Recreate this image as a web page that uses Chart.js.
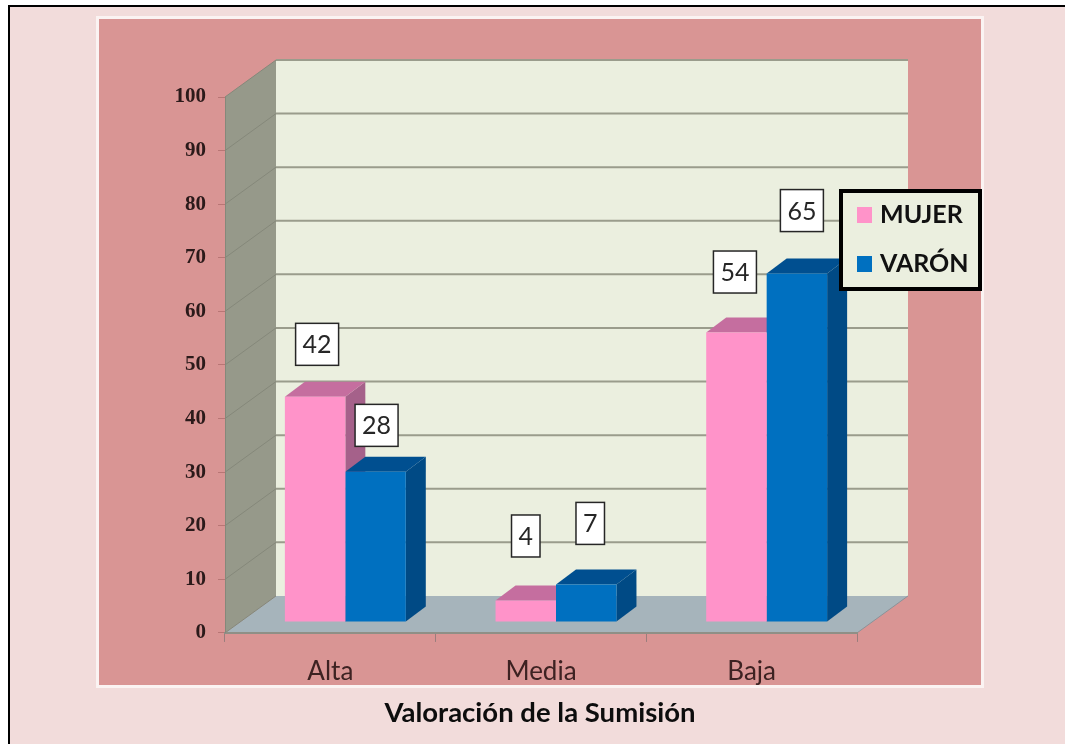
<!DOCTYPE html>
<html>
<head>
<meta charset="utf-8">
<title>Valoración de la Sumisión</title>
<script src="https://cdn.jsdelivr.net/npm/chart.js@4/dist/chart.umd.min.js"></script>
<style>
    html, body { margin: 0; padding: 0; background: #fff; overflow: hidden; }
    canvas { display: block; }
</style>
</head>
<body>
<canvas id="myChart" width="1065" height="744"></canvas>
<script>
// data
const categories = ['Alta', 'Media', 'Baja'];
const mujer = [42, 4, 54];
const varon = [28, 7, 65];
const seriesNames = ['MUJER', 'VARÓN'];
const chartTitle = 'Valoración de la Sumisión';

// colours
const pinkFaces = { front: '#ff93c9', top: '#c56e9f', side: '#a5618a' };
const blueFaces = { front: '#0070c0', top: '#004f90', side: '#004a85' };
const faces = [pinkFaces, blueFaces];

// 3d look
const wall = { dx: 51, dy: 37 };     // depth of the room
const barShift = { x: 15, y: -11 };  // bars stand a bit inside the room
const barDepth = { dx: 20, dy: 15 };

// the value boxes were moved by hand in the original, [series][category]
const labelOffsets = [
    [[2, -52.5], [0, -64.5], [-1.5, -60.5]],
    [[1, -46.5], [4, -61], [5, -63]],
];

const poly = (ctx, pts, fill) => {
    ctx.beginPath();
    pts.forEach((p, i) => (i ? ctx.lineTo(p[0], p[1]) : ctx.moveTo(p[0], p[1])));
    ctx.closePath();
    ctx.fillStyle = fill;
    ctx.fill();
};

const roomPlugin = {
    id: 'room',
    beforeDraw(chart) {
        const { ctx, chartArea: a, scales } = chart;
        const { dx, dy } = wall;
        ctx.save();
        // page and panel
        ctx.fillStyle = '#000';
        ctx.fillRect(8, 5, 1057, 739);
        ctx.fillStyle = '#f2dcdb';
        ctx.fillRect(10, 7, 1055, 737);
        ctx.fillStyle = '#fbf3f2';
        ctx.fillRect(96, 16, 888, 672);
        ctx.fillStyle = '#d99594';
        ctx.fillRect(99, 19, 882, 666);

        // back wall, side wall, floor
        poly(ctx, [[a.left + dx, a.top - dy], [a.right + dx, a.top - dy], [a.right + dx, a.bottom - dy], [a.left + dx, a.bottom - dy]], '#ebefdf');
        poly(ctx, [[a.left, a.top], [a.left + dx, a.top - dy], [a.left + dx, a.bottom - dy], [a.left, a.bottom]], '#96998a');
        poly(ctx, [[a.left, a.bottom], [a.left + dx, a.bottom - dy], [a.right + dx, a.bottom - dy], [a.right, a.bottom]], '#a6b4bb');

        // grid lines go round the room
        ctx.strokeStyle = '#9a9c8c';
        ctx.lineWidth = 2;
        scales.y.ticks.forEach((t) => {
            const y = scales.y.getPixelForValue(t.value);
            if (t.value === 0) return;
            ctx.beginPath();
            ctx.moveTo(a.left + dx, y - dy);
            ctx.lineTo(a.right + dx, y - dy);
            ctx.stroke();
        });
        ctx.strokeStyle = '#85887a';
        ctx.lineWidth = 1;
        scales.y.ticks.forEach((t) => {
            const y = scales.y.getPixelForValue(t.value);
            ctx.beginPath();
            ctx.moveTo(a.left, y);
            ctx.lineTo(a.left + dx, y - dy);
            ctx.stroke();
        });
        ctx.beginPath();
        ctx.moveTo(a.right, a.bottom);
        ctx.lineTo(a.right + dx, a.bottom - dy);
        ctx.strokeStyle = '#8c9298';
        ctx.stroke();
        ctx.restore();
    },
    // side and top faces go first, chart.js draws the fronts over them
    beforeDatasetsDraw(chart) {
        const { ctx } = chart;
        const { dx, dy } = barDepth;
        ctx.save();
        ctx.translate(barShift.x, barShift.y);
        chart.data.datasets.forEach((ds, i) => {
            const f = faces[i];
            chart.getDatasetMeta(i).data.forEach((bar) => {
                const left = bar.x - bar.width / 2;
                const right = bar.x + bar.width / 2;
                poly(ctx, [[right, bar.y], [right + dx, bar.y - dy], [right + dx, bar.base - dy], [right, bar.base]], f.side);
                poly(ctx, [[left, bar.y], [left + dx, bar.y - dy], [right + dx, bar.y - dy], [right, bar.y]], f.top);
            });
        });
        ctx.restore();
    },
    beforeDatasetDraw(chart) {
        chart.ctx.save();
        chart.ctx.translate(barShift.x, barShift.y);
    },
    afterDatasetDraw(chart) {
        chart.ctx.restore();
    },
    afterDatasetsDraw(chart) {
        const { ctx } = chart;
        ctx.save();
        // value boxes
        ctx.font = '25px Lato';
        ctx.textAlign = 'center';
        ctx.textBaseline = 'middle';
        chart.data.datasets.forEach((ds, i) => {
            chart.getDatasetMeta(i).data.forEach((bar, j) => {
                const x = bar.x + barShift.x + labelOffsets[i][j][0];
                const y = bar.y + barShift.y + labelOffsets[i][j][1];
                const text = String(ds.data[j]);
                const w = ctx.measureText(text).width + 14;
                ctx.fillStyle = '#fff';
                ctx.strokeStyle = '#262626';
                ctx.lineWidth = 1.5;
                ctx.fillRect(x - w / 2, y - 21, w, 42);
                ctx.strokeRect(x - w / 2, y - 21, w, 42);
                ctx.fillStyle = '#262626';
                ctx.fillText(text, x, y + 1);
            });
        });

        // legend box
        ctx.fillStyle = '#ebefdf';
        ctx.fillRect(841, 191, 139, 98);
        ctx.strokeStyle = '#000';
        ctx.lineWidth = 4;
        ctx.strokeRect(841, 191, 139, 98);
        ctx.font = 'bold 25px Lato';
        ctx.textAlign = 'left';
        chart.data.datasets.forEach((ds, i) => {
            const y = 215 + i * 49;
            ctx.fillStyle = ds.backgroundColor;
            ctx.fillRect(857, y - 8, 15, 16);
            ctx.fillStyle = '#111';
            ctx.fillText(ds.label, 880, y);
        });
        ctx.restore();
    },
};

new Chart(document.getElementById('myChart'), {
    type: 'bar',
    data: {
        labels: categories,
        datasets: [
            { label: seriesNames[0], data: mujer, backgroundColor: pinkFaces.front, clip: false },
            { label: seriesNames[1], data: varon, backgroundColor: blueFaces.front, clip: false },
        ],
    },
    options: {
        responsive: false,
        animation: false,
        devicePixelRatio: 1,
        datasets: { bar: { categoryPercentage: 0.574, barPercentage: 1 } },
        layout: {
            autoPadding: false,
            padding: { left: 15, right: 0, top: 97, bottom: 15.5 },
        },
        plugins: {
            legend: { display: false },
            tooltip: { enabled: false },
            title: {
                display: true,
                text: chartTitle,
                position: 'bottom',
                color: '#0d0d0d',
                font: { family: 'Lato', size: 27.5, weight: 'bold', lineHeight: 1.13 },
                padding: 0,
            },
        },
        scales: {
            x: {
                afterFit(scale) { scale.height = 64.5; },
                grid: { drawOnChartArea: false, drawTicks: true, tickLength: 9, color: '#9b7d7c' },
                border: { display: true, color: '#8f8f86', width: 2 },
                ticks: {
                    color: '#3d2222',
                    font: { family: 'Lato', size: 26 },
                    padding: 14,
                    maxRotation: 0,
                    autoSkip: false,
                },
            },
            y: {
                min: 0,
                max: 100,
                afterFit(scale) { scale.width = 210; },
                grid: { drawOnChartArea: false, drawTicks: true, tickLength: 7, color: '#b87675' },
                border: { display: true, color: '#85887a', width: 1 },
                ticks: {
                    stepSize: 10,
                    color: '#2b1a1a',
                    font: { family: 'Liberation Serif', size: 21, weight: 'bold' },
                    padding: 12,
                },
            },
            // empty axis, only keeps the space right of the plot
            spacer: {
                type: 'linear',
                position: 'right',
                afterFit(scale) { scale.width = 208; },
                grid: { display: false },
                border: { display: false },
                ticks: { display: false },
            },
        },
    },
    plugins: [roomPlugin],
});
</script>
</body>
</html>
